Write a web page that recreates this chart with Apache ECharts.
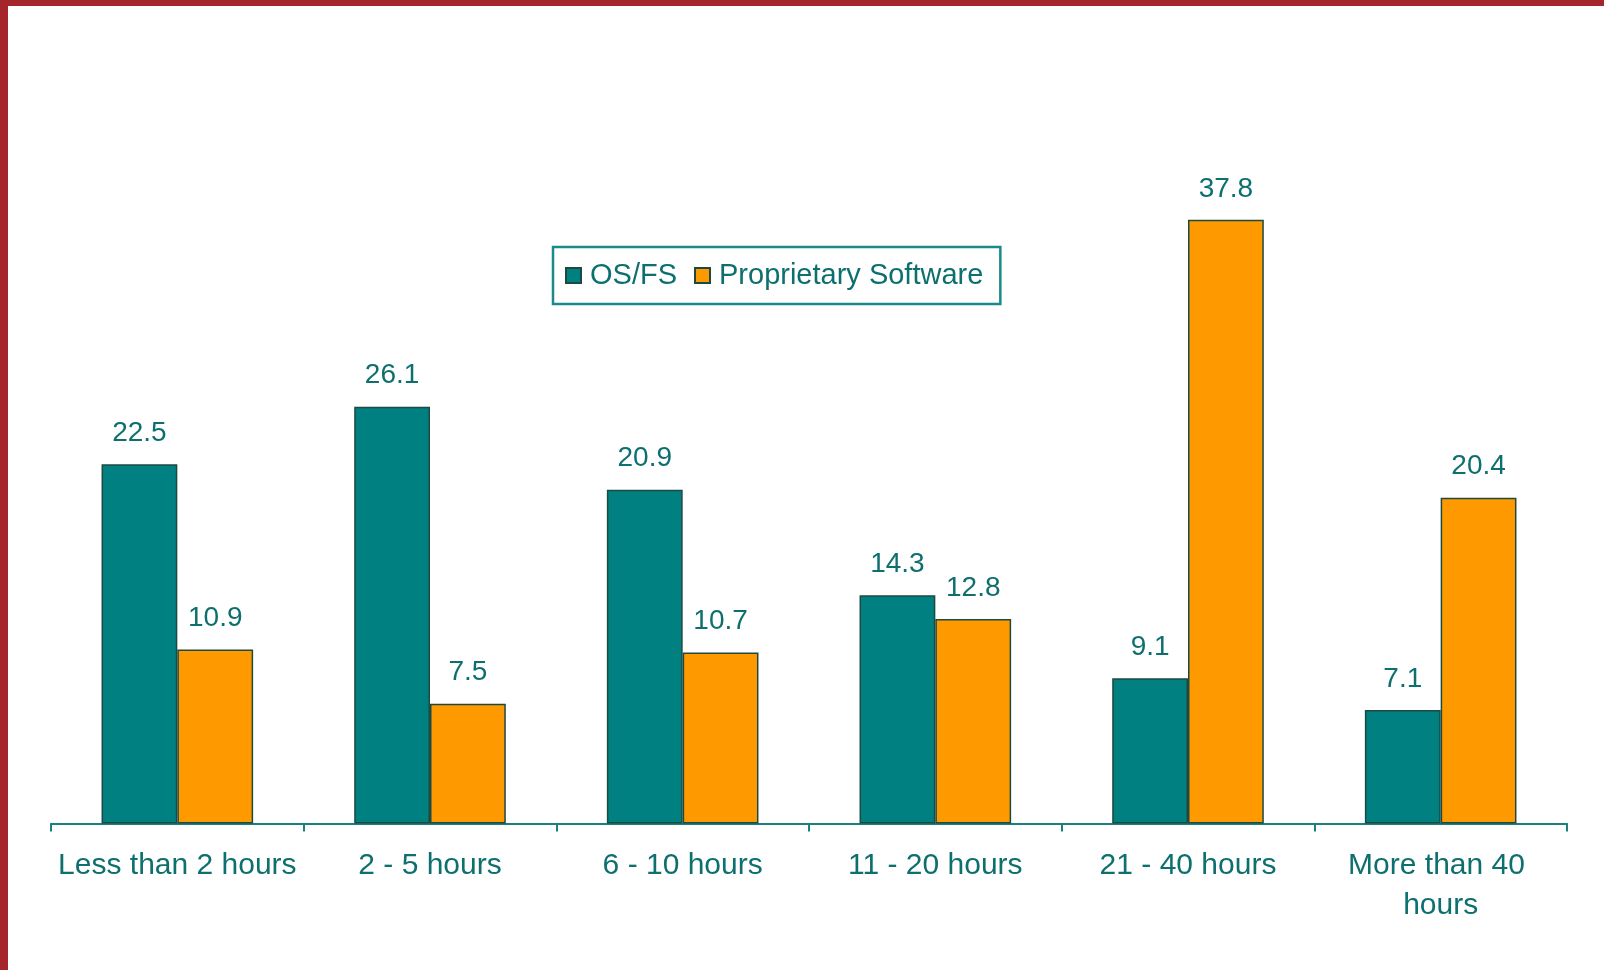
<!DOCTYPE html>
<html>
<head>
<meta charset="utf-8">
<script src="https://cdn.jsdelivr.net/npm/echarts@6/dist/echarts.min.js"></script>
<style>
html,body{margin:0;padding:0;background:#fff;}
#chart{position:absolute;left:0;top:0;width:1604px;height:970px;}
</style>
</head>
<body>
<div id="chart"></div>
<script>
const categories = ["Less than 2 hours", "2 - 5 hours", "6 - 10 hours", "11 - 20 hours", "21 - 40 hours", "More than 40 hours"];
const osfs = [22.5, 26.1, 20.9, 14.3, 9.1, 7.1];
const proprietary = [10.9, 7.5, 10.7, 12.8, 37.8, 20.4];
const seriesNames = ["OS/FS", "Proprietary Software"];

const textColor = '#0e6f6f';
const font = '"Liberation Sans", Arial, sans-serif';

const chart = echarts.init(document.getElementById('chart'));
const labelCfg = {
  show: true, position: 'top', distance: 17,
  color: textColor, fontSize: 28, fontFamily: font
};
chart.setOption({
  animation: false,
  backgroundColor: '#ffffff',
  graphic: [
    {type: 'rect', left: 0, top: 0, shape: {width: 1604, height: 6}, style: {fill: '#a5262a'}, z: 100},
    {type: 'rect', left: 0, top: 0, shape: {width: 8, height: 970}, style: {fill: '#a5262a'}, z: 100}
  ],
  legend: {
    left: 553, top: 247,
    padding: [14, 17, 14, 12],
    borderColor: '#1a8a8a', borderWidth: 2.5,
    itemWidth: 15, itemHeight: 15, itemGap: 17,
    icon: 'rect',
    textStyle: {color: textColor, fontSize: 29, fontFamily: font, padding: [0, 0, 0, 4]},
    data: seriesNames
  },
  grid: {left: 51, right: 37, top: 184.7, bottom: 146.5, containLabel: false},
  xAxis: {
    type: 'category', data: categories,
    axisLine: {lineStyle: {color: '#1a8080', width: 2}},
    axisTick: {show: true, length: 8, lineStyle: {color: '#1a8080', width: 2}},
    axisLabel: {
      color: textColor, fontSize: 30, fontFamily: font, margin: 22,
      lineHeight: 40, width: 250, overflow: 'break', interval: 0
    }
  },
  yAxis: {type: 'value', min: 0, max: 40, show: false, splitLine: {show: false}},
  series: [
    {
      name: seriesNames[0], type: 'bar', data: osfs,
      barGap: '0%', barCategoryGap: '40%',
      itemStyle: {color: '#008080', borderColor: '#1c4a40', borderWidth: 1.5},
      label: labelCfg
    },
    {
      name: seriesNames[1], type: 'bar', data: proprietary,
      itemStyle: {color: '#ff9900', borderColor: '#1c4a40', borderWidth: 1.5},
      label: labelCfg
    }
  ]
});
</script>
</body>
</html>
